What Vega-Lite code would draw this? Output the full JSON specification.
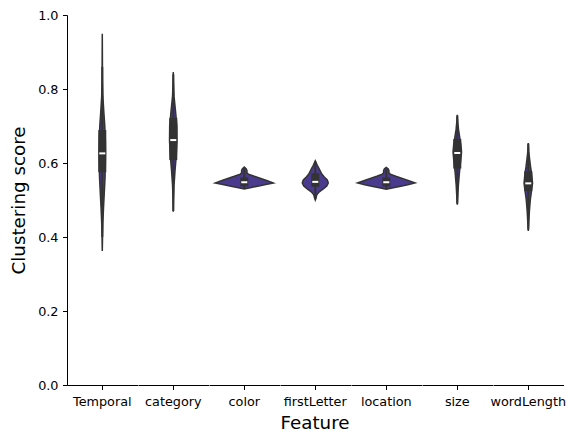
{
  "$schema": "https://vega.github.io/schema/vega-lite/v6.json",
  "padding": {"left": 9, "top": 9, "right": 5, "bottom": 5},
  "background": "white",
  "bounds": "flush",
  "data": {
    "values": [
      {"feature": "Temporal", "kind": "kde", "score": 0.362, "density": 0},
      {"feature": "Temporal", "kind": "kde", "score": 0.40, "density": 0.05},
      {"feature": "Temporal", "kind": "kde", "score": 0.44, "density": 0.12},
      {"feature": "Temporal", "kind": "kde", "score": 0.48, "density": 0.25},
      {"feature": "Temporal", "kind": "kde", "score": 0.52, "density": 0.4},
      {"feature": "Temporal", "kind": "kde", "score": 0.56, "density": 0.55},
      {"feature": "Temporal", "kind": "kde", "score": 0.60, "density": 0.62},
      {"feature": "Temporal", "kind": "kde", "score": 0.63, "density": 0.65},
      {"feature": "Temporal", "kind": "kde", "score": 0.66, "density": 0.62},
      {"feature": "Temporal", "kind": "kde", "score": 0.70, "density": 0.5},
      {"feature": "Temporal", "kind": "kde", "score": 0.74, "density": 0.3},
      {"feature": "Temporal", "kind": "kde", "score": 0.78, "density": 0.12},
      {"feature": "Temporal", "kind": "kde", "score": 0.82, "density": 0.05},
      {"feature": "Temporal", "kind": "kde", "score": 0.86, "density": 0.03},
      {"feature": "Temporal", "kind": "kde", "score": 0.90, "density": 0.02},
      {"feature": "Temporal", "kind": "kde", "score": 0.949, "density": 0},

      {"feature": "category", "kind": "kde", "score": 0.468, "density": 0},
      {"feature": "category", "kind": "kde", "score": 0.50, "density": 0.05},
      {"feature": "category", "kind": "kde", "score": 0.54, "density": 0.15},
      {"feature": "category", "kind": "kde", "score": 0.58, "density": 0.35},
      {"feature": "category", "kind": "kde", "score": 0.62, "density": 0.6},
      {"feature": "category", "kind": "kde", "score": 0.66, "density": 0.75},
      {"feature": "category", "kind": "kde", "score": 0.70, "density": 0.72},
      {"feature": "category", "kind": "kde", "score": 0.74, "density": 0.45},
      {"feature": "category", "kind": "kde", "score": 0.78, "density": 0.15},
      {"feature": "category", "kind": "kde", "score": 0.82, "density": 0.04},
      {"feature": "category", "kind": "kde", "score": 0.846, "density": 0},

      {"feature": "color", "kind": "kde", "score": 0.530, "density": 0},
      {"feature": "color", "kind": "kde", "score": 0.534, "density": 1.4},
      {"feature": "color", "kind": "kde", "score": 0.538, "density": 2.9},
      {"feature": "color", "kind": "kde", "score": 0.542, "density": 4.3},
      {"feature": "color", "kind": "kde", "score": 0.546, "density": 5.8},
      {"feature": "color", "kind": "kde", "score": 0.552, "density": 4.6},
      {"feature": "color", "kind": "kde", "score": 0.558, "density": 3.3},
      {"feature": "color", "kind": "kde", "score": 0.564, "density": 2.0},
      {"feature": "color", "kind": "kde", "score": 0.570, "density": 0.8},
      {"feature": "color", "kind": "kde", "score": 0.574, "density": 0.5},
      {"feature": "color", "kind": "kde", "score": 0.579, "density": 0.55},
      {"feature": "color", "kind": "kde", "score": 0.584, "density": 0.4},
      {"feature": "color", "kind": "kde", "score": 0.589, "density": 0},

      {"feature": "firstLetter", "kind": "kde", "score": 0.500, "density": 0},
      {"feature": "firstLetter", "kind": "kde", "score": 0.506, "density": 0.15},
      {"feature": "firstLetter", "kind": "kde", "score": 0.514, "density": 0.3},
      {"feature": "firstLetter", "kind": "kde", "score": 0.522, "density": 0.8},
      {"feature": "firstLetter", "kind": "kde", "score": 0.530, "density": 1.6},
      {"feature": "firstLetter", "kind": "kde", "score": 0.538, "density": 2.3},
      {"feature": "firstLetter", "kind": "kde", "score": 0.546, "density": 2.6},
      {"feature": "firstLetter", "kind": "kde", "score": 0.554, "density": 2.4},
      {"feature": "firstLetter", "kind": "kde", "score": 0.562, "density": 1.8},
      {"feature": "firstLetter", "kind": "kde", "score": 0.570, "density": 1.3},
      {"feature": "firstLetter", "kind": "kde", "score": 0.578, "density": 1.0},
      {"feature": "firstLetter", "kind": "kde", "score": 0.586, "density": 0.7},
      {"feature": "firstLetter", "kind": "kde", "score": 0.594, "density": 0.4},
      {"feature": "firstLetter", "kind": "kde", "score": 0.600, "density": 0.2},
      {"feature": "firstLetter", "kind": "kde", "score": 0.606, "density": 0},

      {"feature": "location", "kind": "kde", "score": 0.529, "density": 0},
      {"feature": "location", "kind": "kde", "score": 0.533, "density": 1.4},
      {"feature": "location", "kind": "kde", "score": 0.537, "density": 2.9},
      {"feature": "location", "kind": "kde", "score": 0.541, "density": 4.3},
      {"feature": "location", "kind": "kde", "score": 0.546, "density": 5.75},
      {"feature": "location", "kind": "kde", "score": 0.552, "density": 4.5},
      {"feature": "location", "kind": "kde", "score": 0.558, "density": 3.2},
      {"feature": "location", "kind": "kde", "score": 0.564, "density": 1.9},
      {"feature": "location", "kind": "kde", "score": 0.570, "density": 0.8},
      {"feature": "location", "kind": "kde", "score": 0.574, "density": 0.5},
      {"feature": "location", "kind": "kde", "score": 0.579, "density": 0.55},
      {"feature": "location", "kind": "kde", "score": 0.584, "density": 0.4},
      {"feature": "location", "kind": "kde", "score": 0.588, "density": 0},

      {"feature": "size", "kind": "kde", "score": 0.487, "density": 0},
      {"feature": "size", "kind": "kde", "score": 0.51, "density": 0.1},
      {"feature": "size", "kind": "kde", "score": 0.54, "density": 0.22},
      {"feature": "size", "kind": "kde", "score": 0.57, "density": 0.4},
      {"feature": "size", "kind": "kde", "score": 0.59, "density": 0.55},
      {"feature": "size", "kind": "kde", "score": 0.61, "density": 0.72},
      {"feature": "size", "kind": "kde", "score": 0.63, "density": 0.85},
      {"feature": "size", "kind": "kde", "score": 0.65, "density": 0.72},
      {"feature": "size", "kind": "kde", "score": 0.67, "density": 0.48},
      {"feature": "size", "kind": "kde", "score": 0.69, "density": 0.25},
      {"feature": "size", "kind": "kde", "score": 0.71, "density": 0.1},
      {"feature": "size", "kind": "kde", "score": 0.730, "density": 0},

      {"feature": "wordLength", "kind": "kde", "score": 0.416, "density": 0},
      {"feature": "wordLength", "kind": "kde", "score": 0.44, "density": 0.1},
      {"feature": "wordLength", "kind": "kde", "score": 0.47, "density": 0.22},
      {"feature": "wordLength", "kind": "kde", "score": 0.50, "density": 0.4},
      {"feature": "wordLength", "kind": "kde", "score": 0.52, "density": 0.6},
      {"feature": "wordLength", "kind": "kde", "score": 0.545, "density": 0.85},
      {"feature": "wordLength", "kind": "kde", "score": 0.57, "density": 0.68},
      {"feature": "wordLength", "kind": "kde", "score": 0.59, "density": 0.45},
      {"feature": "wordLength", "kind": "kde", "score": 0.61, "density": 0.27},
      {"feature": "wordLength", "kind": "kde", "score": 0.63, "density": 0.1},
      {"feature": "wordLength", "kind": "kde", "score": 0.654, "density": 0},

      {"feature": "Temporal", "kind": "box", "q1": 0.575, "q3": 0.689, "med": 0.626, "lo": 0.40, "hi": 0.86},
      {"feature": "category", "kind": "box", "q1": 0.608, "q3": 0.722, "med": 0.662, "lo": 0.47, "hi": 0.84},
      {"feature": "color", "kind": "box", "q1": 0.537, "q3": 0.561, "med": 0.548, "lo": 0.531, "hi": 0.585},
      {"feature": "firstLetter", "kind": "box", "q1": 0.536, "q3": 0.572, "med": 0.549, "lo": 0.502, "hi": 0.604},
      {"feature": "location", "kind": "box", "q1": 0.537, "q3": 0.561, "med": 0.548, "lo": 0.531, "hi": 0.584},
      {"feature": "size", "kind": "box", "q1": 0.585, "q3": 0.665, "med": 0.627, "lo": 0.49, "hi": 0.728},
      {"feature": "wordLength", "kind": "box", "q1": 0.524, "q3": 0.578, "med": 0.545, "lo": 0.42, "hi": 0.652}
    ]
  },
  "transform": [
    {"stack": "density", "groupby": ["feature", "kind", "score"], "offset": "center", "as": ["d0", "d1"]}
  ],
  "facet": {
    "column": {
      "field": "feature",
      "type": "nominal",
      "sort": ["Temporal", "category", "color", "firstLetter", "location", "size", "wordLength"],
      "title": "Feature",
      "header": {
        "labelOrient": "bottom",
        "titleOrient": "bottom",
        "labelFont": "DejaVu Sans",
        "labelFontSize": 12.8,
        "labelColor": "black",
        "labelPadding": 6,
        "titleFont": "DejaVu Sans",
        "titleFontSize": 18.3,
        "titleFontWeight": "normal",
        "titleColor": "black",
        "titlePadding": -4
      }
    }
  },
  "spacing": 0,
  "spec": {
    "width": 70.57,
    "height": 370,
    "layer": [
      {
        "transform": [{"filter": "datum.kind === 'kde'"}],
        "mark": {"type": "area", "orient": "horizontal", "fill": "#4b3b8f", "stroke": "#333333", "strokeWidth": 1.5, "fillOpacity": 1},
        "encoding": {
          "y": {
            "field": "score",
            "type": "quantitative",
            "scale": {"domain": [0, 1], "nice": false, "zero": false},
            "title": "Clustering score",
            "axis": {
              "values": [0, 0.2, 0.4, 0.6, 0.8, 1.0],
              "format": ".1f",
              "grid": false,
              "tickSize": 4.5,
              "labelPadding": 4.5,
              "labelFontSize": 12.8,
              "labelFont": "DejaVu Sans",
              "labelColor": "black",
              "titleFont": "DejaVu Sans",
              "titleFontSize": 18.3,
              "titleFontWeight": "normal",
              "titleColor": "black",
              "titlePadding": 9,
              "domainColor": "black",
              "tickColor": "black"
            }
          },
          "x": {
            "field": "d0",
            "type": "quantitative",
            "scale": {"domain": [-0.63, 6.43], "nice": false, "zero": false},
            "axis": {
              "values": [2.9],
              "labels": false,
              "title": null,
              "grid": false,
              "tickSize": 4.5,
              "domainColor": "black",
              "tickColor": "black"
            }
          },
          "x2": {"field": "d1"}
        }
      },
      {
        "transform": [{"filter": "datum.kind === 'box'"}],
        "mark": {"type": "rule", "color": "#333333", "strokeWidth": 2},
        "encoding": {
          "x": {"datum": 2.9, "type": "quantitative"},
          "y": {"field": "lo", "type": "quantitative"},
          "y2": {"field": "hi"}
        }
      },
      {
        "transform": [{"filter": "datum.kind === 'box'"}],
        "mark": {"type": "rule", "color": "#333333", "strokeWidth": 8},
        "encoding": {
          "x": {"datum": 2.9, "type": "quantitative"},
          "y": {"field": "q1", "type": "quantitative"},
          "y2": {"field": "q3"}
        }
      },
      {
        "transform": [{"filter": "datum.kind === 'box'"}],
        "mark": {"type": "tick", "orient": "horizontal", "color": "white", "size": 6, "thickness": 2, "opacity": 1},
        "encoding": {
          "x": {"datum": 2.9, "type": "quantitative"},
          "y": {"field": "med", "type": "quantitative"}
        }
      }
    ]
  },
  "config": {
    "font": "DejaVu Sans",
    "view": {"stroke": null}
  }
}
